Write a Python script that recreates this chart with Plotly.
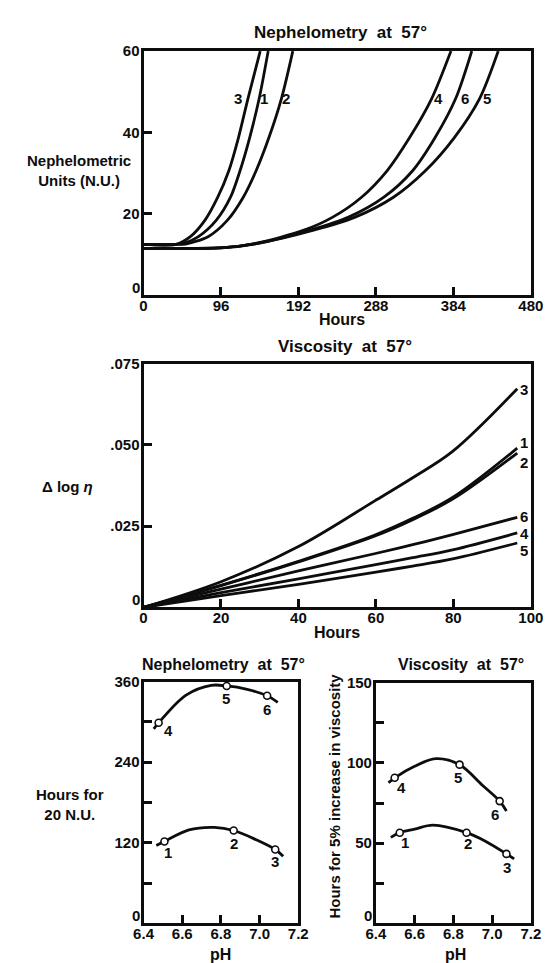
import plotly.graph_objects as go

W, H = 556, 963

# ---------------- data: Nephelometry at 57 deg (top) ----------------
neph_h3 = [0, 40, 58, 76, 92, 105.7, 117.6, 129.5, 144.6]
neph_v3 = [12.5, 12.5, 14.4, 18.4, 24.1, 30.6, 38.7, 48.4, 60]
neph_h1 = [0, 40, 52, 68, 90, 107.8, 119.6, 131.5, 143.4, 154.5]
neph_v1 = [12.5, 12.5, 12.9, 14.4, 18.4, 24.1, 30.6, 38.7, 48.4, 60]
neph_h2 = [0, 40, 52, 80, 103.8, 123.6, 139.5, 155.3, 171, 185]
neph_v2 = [12.5, 12.5, 12.6, 14.4, 18.4, 24.1, 30.6, 38.7, 48.4, 60]
neph_h4 = [0, 60, 100, 140, 198.9, 234.5, 270.2, 301.8, 329.6, 357.3, 381]
neph_v4 = [11.5, 11.5, 11.7, 12.8, 16.0, 19.2, 24.1, 30.6, 38.7, 48.4, 60]
neph_h6 = [0, 60, 100, 140, 206.7, 254.2, 297.9, 333.5, 361.2, 387, 406.8]
neph_v6 = [11.5, 11.5, 11.7, 12.7, 16.0, 19.2, 24.1, 30.6, 38.7, 48.4, 60]
neph_h5 = [0, 60, 100, 140, 210.8, 262.2, 309.7, 349.3, 385, 416.7, 439.6]
neph_v5 = [11.5, 11.5, 11.7, 12.7, 16.0, 19.2, 24.1, 30.6, 38.7, 48.4, 60]
neph_label_h = [117.6, 149.3, 176.3, 365.2, 398.8, 425.3]
neph_label_txt = ["3", "1", "2", "4", "6", "5"]
neph_label_v = 48.4

# ---------------- data: Viscosity at 57 deg (middle) ----------------
visc_h = [0, 20, 40, 59.6, 69.5, 79.8, 96.5]
visc_v3 = [0, 0.0079, 0.0187, 0.0327, 0.0399, 0.0480, 0.0673]
visc_v1 = [0, 0.0068, 0.0142, 0.0222, 0.0274, 0.0338, 0.0490]
visc_v2 = [0, 0.0067, 0.0140, 0.0219, 0.0270, 0.0333, 0.0475]
visc_v6 = [0, 0.0056, 0.0112, 0.0165, 0.0193, 0.0224, 0.0277]
visc_v4 = [0, 0.0045, 0.0088, 0.0131, 0.0153, 0.0177, 0.0229]
visc_v5 = [0, 0.0036, 0.0071, 0.0108, 0.0127, 0.0149, 0.0198]
visc_label_txt = ["3", "1", "2", "6", "4", "5"]
visc_label_v = [0.0673, 0.0510, 0.0447, 0.0280, 0.0228, 0.0178]

# ---------------- data: Hours for 20 N.U. vs pH (bottom left) ----------------
bl_pts_ph_a = [6.478, 6.830, 7.039]
bl_pts_v_a = [298.7, 353.6, 338.9]
bl_pts_ph_b = [6.508, 6.866, 7.081]
bl_pts_v_b = [122, 138.3, 110]
bl_curve_ph_a = [6.453, 6.478, 6.62, 6.75, 6.830, 6.93, 7.039, 7.094]
bl_curve_v_a = [289.8, 298.7, 340.0, 354.5, 353.6, 349.0, 338.9, 329]
bl_curve_ph_b = [6.466, 6.508, 6.635, 6.767, 6.866, 6.982, 7.081, 7.122]
bl_curve_v_b = [116, 122, 139.3, 143, 138.3, 124.6, 110, 100]
bl_label_txt = ["4", "5", "6", "1", "2", "3"]
bl_label_ph = [6.527, 6.825, 7.039, 6.527, 6.866, 7.081]
bl_label_v = [287, 335, 318, 105, 119.6, 92.7]

# ---------------- data: Hours for 5% viscosity increase vs pH (bottom right) ----------------
br_pts_ph_a = [6.497, 6.832, 7.039]
br_pts_v_a = [90.7, 98.9, 76.2]
br_pts_ph_b = [6.523, 6.868, 7.074]
br_pts_v_b = [56.5, 56.5, 43.3]
br_curve_ph_a = [6.465, 6.497, 6.6, 6.711, 6.832, 6.95, 7.039, 7.074]
br_curve_v_a = [87.6, 90.7, 97.9, 102.6, 98.9, 86.1, 76.2, 70]
br_curve_ph_b = [6.477, 6.523, 6.6, 6.695, 6.868, 6.97, 7.074, 7.114]
br_curve_v_b = [53.6, 56.5, 58.7, 61.2, 56.5, 50.9, 43.3, 40.2]
br_label_txt = ["4", "5", "6", "1", "2", "3"]
br_label_ph = [6.534, 6.824, 7.015, 6.55, 6.873, 7.079]
br_label_v = [84.5, 90.7, 68, 50.5, 49.5, 35]

# tick labels (the y-axis "0" of each panel is written separately, just above the corner)
top_xticks = [0, 96, 192, 288, 384, 480]
top_yticks = [0, 20, 40, 60]
top_yticktext = ["", "20", "40", "60"]
mid_xticks = [0, 20, 40, 60, 80, 100]
mid_yticks = [0, 0.025, 0.05, 0.075]
mid_yticktext = ["", ".025", ".050", ".075"]
ph_ticks = [6.4, 6.6, 6.8, 7.0, 7.2]
ph_ticktext = ["6.4", "6.6", "6.8", "7.0", "7.2"]
bl_yticks = [0, 60, 120, 180, 240, 300, 360]
bl_yticktext = ["", "", "120", "", "240", "", "360"]
br_yticks = [0, 25, 50, 75, 100, 125, 150]
br_yticktext = ["", "", "50", "", "100", "", "150"]

INK = "#0d0d0d"
FONT = "Liberation Sans"


def fx(p):
    return p / W


def fy(p):
    return 1 - p / H


fig = go.Figure()


def add_curve(x, y, xa, ya, smoothing=0.8):
    fig.add_trace(go.Scatter(
        x=x, y=y, mode="lines", xaxis=xa, yaxis=ya,
        line=dict(color=INK, width=2.8, shape="spline", smoothing=smoothing),
        showlegend=False, hoverinfo="skip"))


def add_points(x, y, xa, ya):
    fig.add_trace(go.Scatter(
        x=x, y=y, mode="markers", xaxis=xa, yaxis=ya,
        marker=dict(symbol="circle", size=7, color="white",
                    line=dict(color=INK, width=1.6)),
        showlegend=False, hoverinfo="skip", cliponaxis=False))


# top
for hx, vy in [(neph_h3, neph_v3), (neph_h1, neph_v1), (neph_h2, neph_v2),
               (neph_h4, neph_v4), (neph_h6, neph_v6), (neph_h5, neph_v5)]:
    add_curve(hx, vy, "x", "y", smoothing=0.8)

# middle
for vy in [visc_v3, visc_v1, visc_v2, visc_v6, visc_v4, visc_v5]:
    add_curve(visc_h, vy, "x2", "y2", smoothing=1.0)

# bottom left
add_curve(bl_curve_ph_a, bl_curve_v_a, "x3", "y3", smoothing=1.0)
add_curve(bl_curve_ph_b, bl_curve_v_b, "x3", "y3", smoothing=1.0)
add_points(bl_pts_ph_a, bl_pts_v_a, "x3", "y3")
add_points(bl_pts_ph_b, bl_pts_v_b, "x3", "y3")

# bottom right
add_curve(br_curve_ph_a, br_curve_v_a, "x4", "y4", smoothing=1.0)
add_curve(br_curve_ph_b, br_curve_v_b, "x4", "y4", smoothing=1.0)
add_points(br_pts_ph_a, br_pts_v_a, "x4", "y4")
add_points(br_pts_ph_b, br_pts_v_b, "x4", "y4")

tickfont = dict(family=FONT, size=15, color=INK, weight="bold")
axis_common = dict(
    showline=True, linewidth=3, linecolor=INK, mirror=True,
    ticks="inside", ticklen=8, tickwidth=2.5, tickcolor=INK,
    showgrid=False, zeroline=False, fixedrange=True, tickfont=tickfont,
)
xaxis_common = dict(axis_common, ticklabelstandoff=-5)
yaxis_common = dict(axis_common, ticklabelstandoff=-2)

# domains (pixel positions converted to paper fractions)
top_x = [fx(139.3), fx(543.3)]
top_y = [fy(289), fy(42.5)]
mid_x = [fx(139.3), fx(543.3)]
mid_y = [fy(604), fy(358)]
bl_x = [fx(139.3), fx(300.7)]
bl_y = [fy(923), fy(679)]
br_x = [fx(381.7), fx(543.3)]
br_y = [fy(923), fy(680)]

layout = dict(
    width=W, height=H,
    margin=dict(l=0, r=0, t=0, b=0),
    paper_bgcolor="white", plot_bgcolor="white",
    font=dict(family=FONT, color=INK, weight="bold"),
    showlegend=False,
    xaxis=dict(domain=top_x, anchor="y", range=[0, 480], tickvals=top_xticks,
               ticktext=[str(t) for t in top_xticks], **xaxis_common),
    yaxis=dict(domain=top_y, anchor="x", range=[0, 60], tickvals=top_yticks,
               ticktext=top_yticktext, **yaxis_common),
    xaxis2=dict(domain=mid_x, anchor="y2", range=[0, 100], tickvals=mid_xticks,
                ticktext=[str(t) for t in mid_xticks], **xaxis_common),
    yaxis2=dict(domain=mid_y, anchor="x2", range=[0, 0.075], tickvals=mid_yticks,
                ticktext=mid_yticktext, **yaxis_common),
    xaxis3=dict(domain=bl_x, anchor="y3", range=[6.4, 7.2], tickvals=ph_ticks,
                ticktext=ph_ticktext, **xaxis_common),
    yaxis3=dict(domain=bl_y, anchor="x3", range=[0, 360], tickvals=bl_yticks,
                ticktext=bl_yticktext, **yaxis_common),
    xaxis4=dict(domain=br_x, anchor="y4", range=[6.4, 7.2], tickvals=ph_ticks,
                ticktext=ph_ticktext, **xaxis_common),
    yaxis4=dict(domain=br_y, anchor="x4", range=[0, 150], tickvals=br_yticks,
                ticktext=br_yticktext, **yaxis_common),
)
fig.update_layout(**layout)

ann = []


def paper_text(text, x, y, size=16, angle=0):
    ann.append(dict(text=text, x=fx(x), y=fy(y), xref="paper", yref="paper",
                    showarrow=False, xanchor="center", yanchor="middle",
                    textangle=angle,
                    font=dict(family=FONT, size=size, color=INK, weight="bold")))


# titles
paper_text("Nephelometry  at  57°", 345, 24, size=17)
paper_text("Viscosity  at  57°", 349, 341, size=17)
paper_text("Nephelometry  at  57°", 223, 662, size=16)
paper_text("Viscosity  at  57°", 470, 662, size=16)

# axis titles
paper_text("Hours", 346, 313, size=16)
paper_text("Hours", 341, 629, size=16)
paper_text("pH", 220, 954, size=16)
paper_text("pH", 465, 954, size=16)
paper_text("Nephelometric<br>Units (N.U.)", 72, 163, size=15)
paper_text("Δ log <i>η</i>", 60, 482, size=15)
paper_text("Hours for<br>20 N.U.", 63, 803, size=15)
paper_text("Hours for 5% increase in viscosity", 339, 794, size=15, angle=-90)

# y-axis zero labels, sitting just above each lower-left corner
for xa, ya in [("x", "y"), ("x2", "y2"), ("x3", "y3"), ("x4", "y4")]:
    ann.append(dict(text="0", xref=xa + " domain", x=0, yref=ya, y=0,
                    xanchor="right", yanchor="bottom", xshift=-2, yshift=-3,
                    showarrow=False, font=tickfont))

labfont = dict(family=FONT, size=15, color=INK, weight="bold")
# curve labels
for t, hx in zip(neph_label_txt, neph_label_h):
    ann.append(dict(text=t, x=hx, y=neph_label_v, xref="x", yref="y",
                    showarrow=False, font=labfont))
for t, vy in zip(visc_label_txt, visc_label_v):
    ann.append(dict(text=t, x=96.6, y=vy, xref="x2", yref="y2", xanchor="left",
                    showarrow=False, font=labfont, height=14))
for t, px_, vy in zip(bl_label_txt, bl_label_ph, bl_label_v):
    ann.append(dict(text=t, x=px_, y=vy, xref="x3", yref="y3",
                    showarrow=False, font=labfont))
for t, px_, vy in zip(br_label_txt, br_label_ph, br_label_v):
    ann.append(dict(text=t, x=px_, y=vy, xref="x4", yref="y4",
                    showarrow=False, font=labfont))

fig.update_layout(annotations=ann)
fig.write_html("out.html", config={"displayModeBar": False},
               post_script="document.body.style.margin='0px';")
